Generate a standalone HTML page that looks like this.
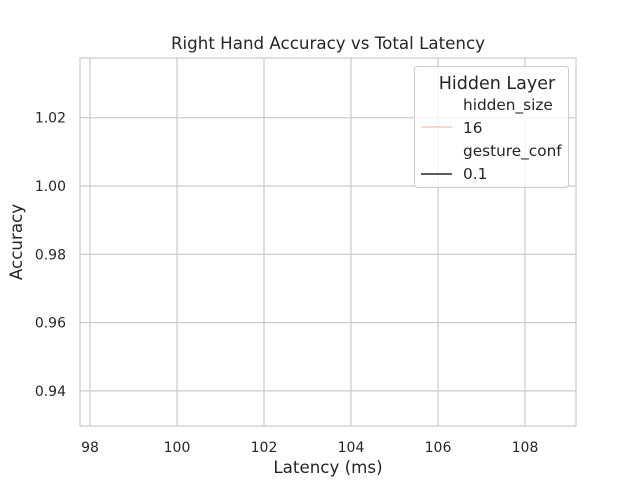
<!DOCTYPE html>
<html><head><meta charset="utf-8"><style>
body{margin:0;background:#fff}
svg text{font-family:"DejaVu Sans","Liberation Sans",sans-serif;fill:#262626}
</style></head><body>
<svg width="640" height="480">
<rect width="640" height="480" fill="#fff"/>
<g id="grid"></g>
<g id="marks"></g>
<rect x="80" y="58" width="496" height="368" fill="none" stroke="#cccccc" stroke-width="1.25"/>
<text x="328" y="49" font-size="16.7" text-anchor="middle">Right Hand Accuracy vs Total Latency</text>
<text x="328" y="473" font-size="16.7" text-anchor="middle">Latency (ms)</text>
<text x="22" y="242" font-size="16.7" text-anchor="middle" transform="rotate(-90 22 242)">Accuracy</text>
<g>
<rect x="414.5" y="66.5" width="154" height="121" rx="3" fill="#fff" fill-opacity="0.8" stroke="#cccccc"/>
<text x="497" y="89" font-size="17.5" text-anchor="middle">Hidden Layer</text>
<text x="463" y="110" font-size="15.3">hidden_size</text>
<line x1="421" y1="127" x2="452" y2="127" stroke="#f1cbc3" stroke-width="1.5"/>
<text x="463" y="133" font-size="15.3">16</text>
<text x="463" y="156" font-size="15.3">gesture_conf</text>
<line x1="421" y1="174" x2="452" y2="174" stroke="#262626" stroke-width="1.5"/>
<text x="463" y="179" font-size="15.3">0.1</text>
</g>
</svg>
<script>
const xTicks=[98,100,102,104,106,108];
const yTicks=[0.94,0.96,0.98,1.00,1.02];
const latency=[103.5];
const accuracy=[0.983];
const xs=v=>177+(v-100)*43.5;
const ys=v=>186-(v-1.0)*3415;
const NS="http://www.w3.org/2000/svg";
const grid=document.getElementById('grid');
const svg=document.querySelector('svg');
function mk(tag,attrs,parent){const e=document.createElementNS(NS,tag);for(const k in attrs)e.setAttribute(k,attrs[k]);parent.appendChild(e);return e;}
xTicks.forEach(t=>{
 const x=xs(t);
 const l=mk('line',{x1:x,x2:x,y1:58,y2:426,stroke:'#cccccc','stroke-width':1.25},grid);
 
 
 const tx=mk('text',{x:x,y:452,'font-size':14,'text-anchor':'middle'},svg);
 tx.textContent=t;
 
 
});
yTicks.forEach(t=>{
 const y=ys(t);
 const l=mk('line',{x1:80,x2:576,y1:y,y2:y,stroke:'#cccccc','stroke-width':1.25},grid);
 
 
 const tx=mk('text',{x:66,y:y+5,'font-size':14,'text-anchor':'end'},svg);
 tx.textContent=t.toFixed(2);
 
 
});
const pts=latency.map((v,i)=>xs(v)+','+ys(accuracy[i])).join(' ');
const pl=mk('polyline',{points:pts,fill:'none',stroke:'#f1cbc3','stroke-width':1.5},document.getElementById('marks'));


</script>
</body></html>
